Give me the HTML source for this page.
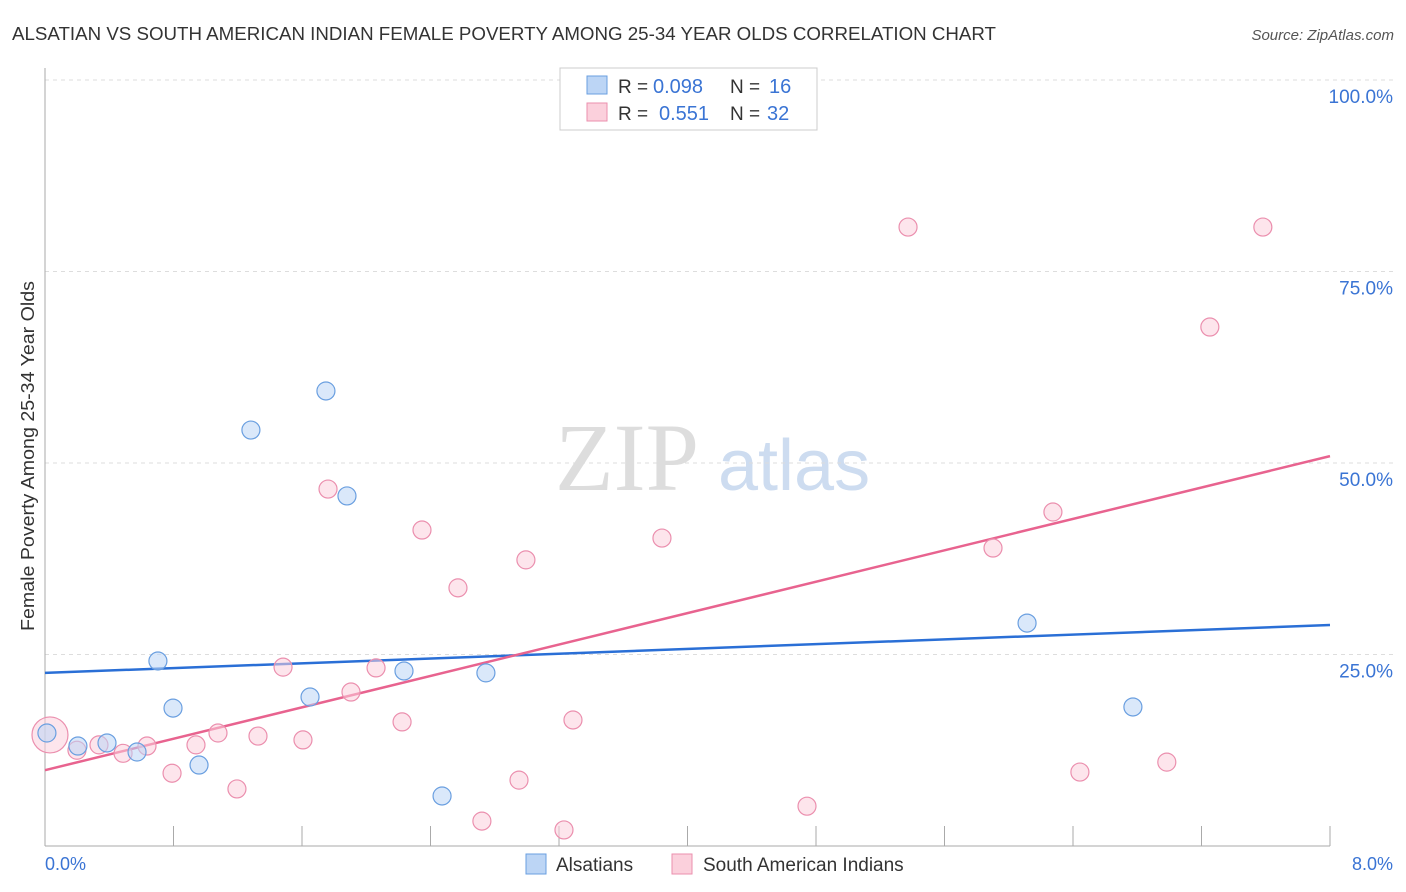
<!DOCTYPE html>
<html><head><meta charset="utf-8"><style>
body{margin:0;background:#fff;font-family:"Liberation Sans",sans-serif;}
svg{display:block}
</style></head><body>
<svg width="1406" height="892" id="chart">
<text x="12" y="40" font-size="18" fill="#333" textLength="984" lengthAdjust="spacingAndGlyphs">ALSATIAN VS SOUTH AMERICAN INDIAN FEMALE POVERTY AMONG 25-34 YEAR OLDS CORRELATION CHART</text>
<text x="1394" y="40" font-size="15" fill="#555" font-style="italic" text-anchor="end">Source: ZipAtlas.com</text>
<text x="34" y="456" font-size="18" fill="#333" text-anchor="middle" textLength="350" lengthAdjust="spacingAndGlyphs" transform="rotate(-90 34 456)">Female Poverty Among 25-34 Year Olds</text>
<text x="555" y="490" font-size="96" fill="#ddd" font-family="Liberation Serif,serif">ZIP</text>
<text x="718" y="490" font-size="72" fill="#cddcf0">atlas</text>
<g id="grid"></g><g id="lines"></g><g id="pts"></g>
<g>
<rect x="560" y="68" width="257" height="62" fill="#fff" stroke="#ccc"/>
<rect x="587" y="76" width="20" height="18" fill="#bcd5f5" stroke="#6a9fe0"/>
<rect x="587" y="103" width="20" height="18" fill="#fbd0dc" stroke="#eb8fae"/>
<text x="618" y="93" font-size="19" fill="#333">R =</text>
<text x="653" y="93" font-size="20" fill="#3a74d4">0.098</text>
<text x="730" y="93" font-size="19" fill="#333">N =</text>
<text x="769" y="93" font-size="20" fill="#3a74d4">16</text>
<text x="618" y="120" font-size="19" fill="#333">R =</text>
<text x="659" y="120" font-size="20" fill="#3a74d4">0.551</text>
<text x="730" y="120" font-size="19" fill="#333">N =</text>
<text x="767" y="120" font-size="20" fill="#3a74d4">32</text>
</g>
<g>
<rect x="526" y="854" width="20" height="20" fill="#bcd5f5" stroke="#6a9fe0"/>
<text x="556" y="871" font-size="19" fill="#333">Alsatians</text>
<rect x="672" y="854" width="20" height="20" fill="#fbd0dc" stroke="#eb8fae"/>
<text x="703" y="871" font-size="19" fill="#333">South American Indians</text>
</g>
<text x="45" y="870" font-size="18" fill="#3a74d4">0.0%</text>
<text x="1393" y="870" font-size="18" fill="#3a74d4" text-anchor="end">8.0%</text>
</svg>
<script>
const yTicks=[25,50,75,100];
const yTickLabels=["25.0%","50.0%","75.0%","100.0%"];
const blueX=[0.012,0.205,0.386,0.573,0.703,0.797,0.959,1.282,1.650,1.749,1.880,2.235,2.472,2.745,6.114,6.773];
const blueY=[14.75,13.05,13.45,12.27,24.15,18.0,10.57,54.3,19.45,59.4,45.7,22.85,6.53,22.6,29.1,18.15];
const pinkX=[0.031,0.199,0.336,0.486,0.635,0.791,0.940,1.077,1.195,1.326,1.482,1.606,1.762,1.905,2.061,2.223,2.347,2.571,2.720,2.951,2.994,3.231,3.287,3.841,4.744,5.373,5.902,6.275,6.443,6.984,7.252,7.582];
const pinkY=[14.5,12.5,13.2,12.1,13.05,9.5,13.2,14.75,7.45,14.35,23.35,13.85,46.6,20.1,23.25,16.2,41.25,33.7,3.25,8.6,37.35,2.1,16.45,40.2,5.2,80.8,38.9,43.6,9.65,10.95,67.75,80.8];
const blueTrend=[22.6,28.85];
const pinkTrend=[9.9,50.9];
const trendX=[0,8];
const NS="http://www.w3.org/2000/svg";
const X=v=>45+v/8*1285, Y=v=>846-v/100*766;
function mk(t,a,p){const e=document.createElementNS(NS,t);for(const k in a)e.setAttribute(k,a[k]);document.getElementById(p).appendChild(e);return e;}
yTicks.forEach((t,i)=>{
 const l=mk('line',{x1:45,x2:1394,y1:Y(t),y2:Y(t),stroke:'#ddd','stroke-dasharray':'4,4'},'grid');
 
 
 const tx=mk('text',{x:1393,y:Y(t)+23,'font-size':19,fill:'#3a74d4','text-anchor':'end'},'grid');
 tx.textContent=yTickLabels[i];
 
 
});
const ax=mk('line',{x1:45,x2:45,y1:68,y2:846,stroke:'#aaa'},'grid');


const bx=mk('line',{x1:45,x2:1330,y1:846,y2:846,stroke:'#aaa'},'grid');


for(let i=1;i<=10;i++){const t=mk('line',{x1:X(i*0.8),x2:X(i*0.8),y1:826,y2:846,stroke:'#aaa'},'grid');
 
 }
function pts(xs,ys,fill,stroke,name){xs.forEach((x,i)=>{
 const r=(name==='pink-point'&&i===0)?18:9;
 const c=mk('circle',{cx:X(x),cy:Y(ys[i]),r:r,fill:fill,'fill-opacity':0.55,stroke:stroke,'stroke-width':1.2},'pts');
 
 });}
pts(pinkX,pinkY,'#fbd0dc','#eb8fae','pink-point');
pts(blueX,blueY,'#bcd5f5','#6a9fe0','blue-point');
const bl=mk('line',{x1:X(trendX[0]),x2:X(trendX[1]),y1:Y(blueTrend[0]),y2:Y(blueTrend[1]),stroke:'#2a6fd6','stroke-width':2.5},'lines');


const pl=mk('line',{x1:X(trendX[0]),x2:X(trendX[1]),y1:Y(pinkTrend[0]),y2:Y(pinkTrend[1]),stroke:'#e8638f','stroke-width':2.5},'lines');


</script>
</body></html>
